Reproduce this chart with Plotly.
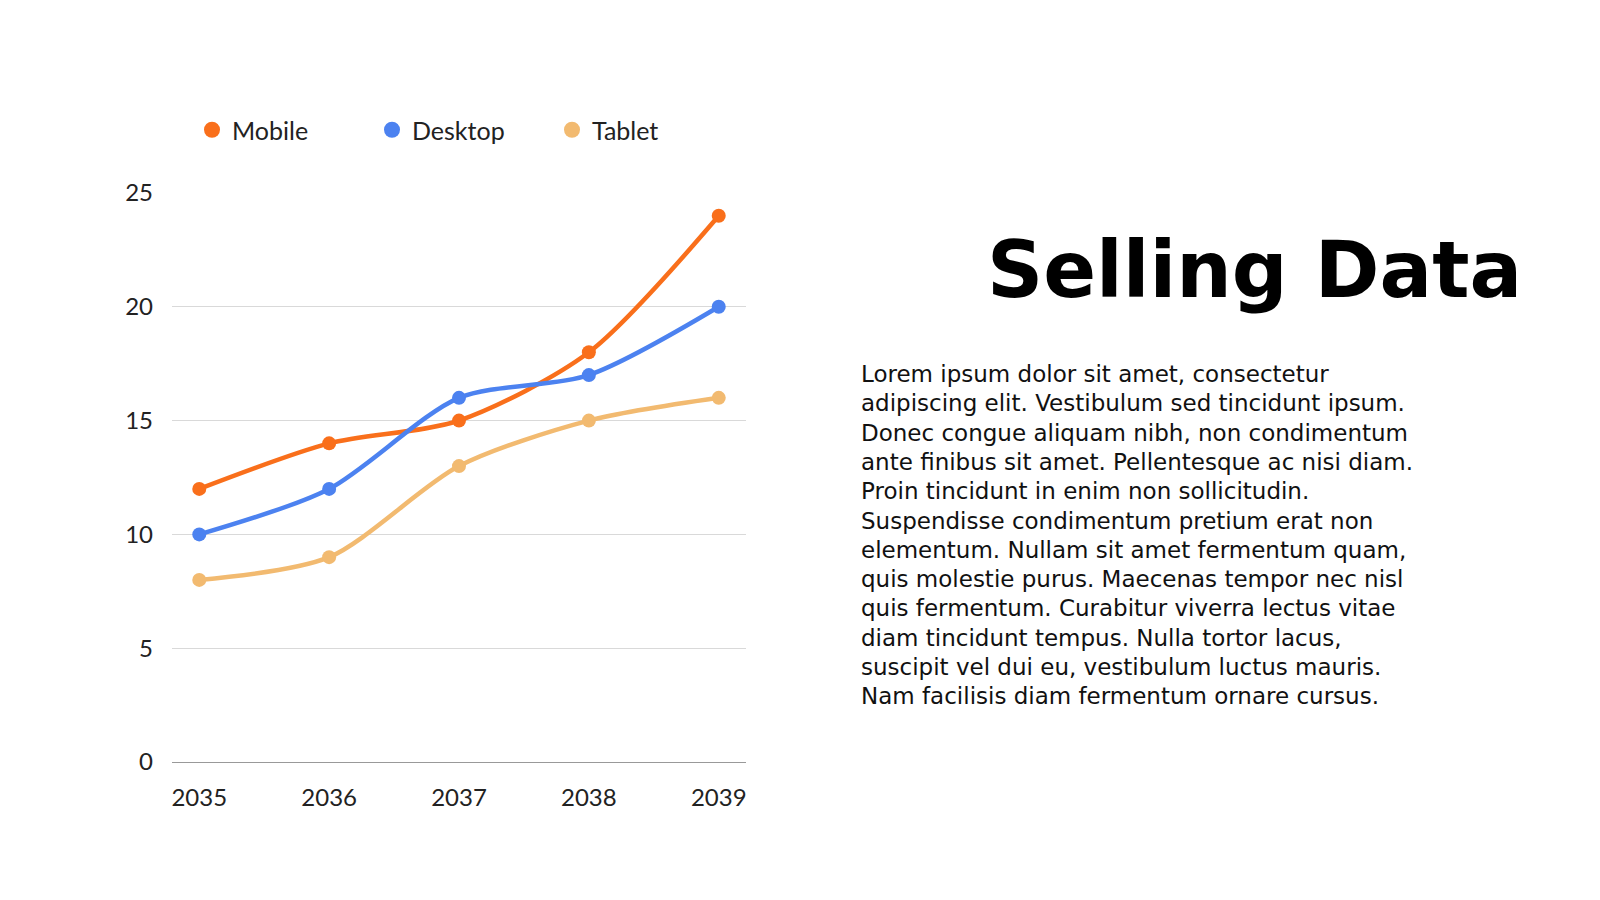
import plotly.graph_objects as go

years = [2035, 2036, 2037, 2038, 2039]
mobile = [12, 14, 15, 18, 24]
desktop = [10, 12, 16, 17, 20]
tablet = [8, 9, 13, 15, 16]
series = [("Mobile", mobile, "#F96F1B"), ("Desktop", desktop, "#4C82F0"), ("Tablet", tablet, "#F2BA70")]

title = "Selling Data"
para_lines = [
    "Lorem ipsum dolor sit amet, consectetur",
    "adipiscing elit. Vestibulum sed tincidunt ipsum.",
    "Donec congue aliquam nibh, non condimentum",
    "ante finibus sit amet. Pellentesque ac nisi diam.",
    "Proin tincidunt in enim non sollicitudin.",
    "Suspendisse condimentum pretium erat non",
    "elementum. Nullam sit amet fermentum quam,",
    "quis molestie purus. Maecenas tempor nec nisl",
    "quis fermentum. Curabitur viverra lectus vitae",
    "diam tincidunt tempus. Nulla tortor lacus,",
    "suscipit vel dui eu, vestibulum luctus mauris.",
    "Nam facilisis diam fermentum ornare cursus.",
]

fig = go.Figure()
for name, vals, col in series:
    fig.add_trace(go.Scatter(x=years, y=vals, mode="lines+markers", line=dict(color=col, width=4.5, shape="spline", smoothing=0.8),
                             marker=dict(size=14, color=col), showlegend=False))
for name, vals, col in series:
    fig.add_trace(go.Scatter(x=[None], y=[None], mode="markers", name=name, marker=dict(size=24, color=col)))

W, H = 1600, 900
fig.update_layout(
    width=W, height=H, margin=dict(l=0, r=0, t=0, b=0), plot_bgcolor="white", paper_bgcolor="white",
    font=dict(family="Lato, sans-serif", size=24, color="#222"),
    xaxis=dict(domain=[164/W, 738/W], range=[2034.79, 2039.21], tickvals=years, ticktext=[str(y) for y in years],
               showgrid=False, showline=True, linecolor="#999", ticks="", zeroline=False, tickfont=dict(size=24),
               ticklabelstandoff=14, automargin=False),
    yaxis=dict(domain=[1-754/H, 1-185/H], range=[0, 25], tickvals=[0, 5, 10, 15, 20, 25], gridcolor="#d9d9d9",
               zeroline=False, ticks="", ticklabelstandoff=18, tickfont=dict(size=24), automargin=False),
    legend=dict(orientation="h", x=184/W, y=1-122/H, xanchor="left", yanchor="middle", font=dict(size=25),
                itemsizing="trace", itemwidth=30, entrywidth=135, entrywidthmode="pixels"),
)
fig.add_annotation(text="<b>" + title + "</b>", x=1516/W, y=1-262/H, xref="paper", yref="paper", xanchor="right",
                   yanchor="middle", showarrow=False, font=dict(size=78, color="#000", family="DejaVu Sans"))
for i, line in enumerate(para_lines):
    fig.add_annotation(text=line, x=851/W, y=1-(366+i*29.3)/H, xref="paper", yref="paper", xanchor="left",
                       yanchor="middle", showarrow=False, font=dict(size=23, color="#111", family="DejaVu Sans"))
fig.write_html("out.html")
